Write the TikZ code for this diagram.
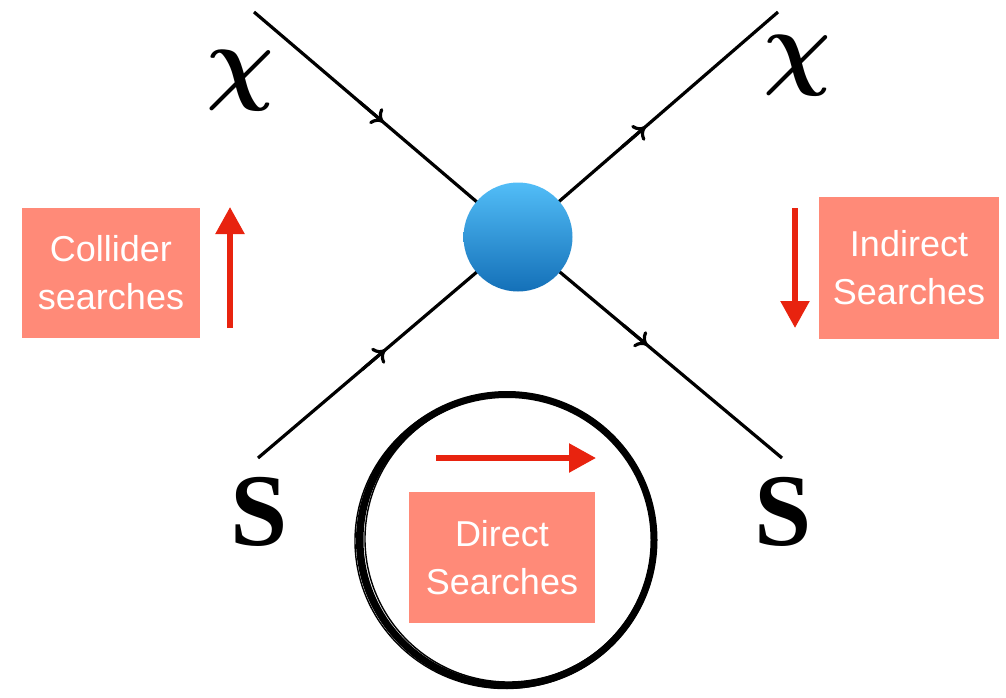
\documentclass[tikz,border=0pt]{standalone}
\usepackage{bm}
\usepackage{fontspec}
\setsansfont{Liberation Sans}
\newfontfamily\sfont{Liberation Serif}
\usetikzlibrary{arrows.meta,calc}
\definecolor{salmon}{HTML}{FF8A78}
\definecolor{redarrow}{HTML}{E8230F}
\definecolor{blobtop}{HTML}{52BDF7}
\definecolor{blobbot}{HTML}{1470B8}
\tikzset{
  fermionline/.style={draw=black, line width=3.2pt},
  fermionhead/.style={draw=black, line width=3.2pt, -{To[length=11pt,width=20pt]}},
  searchbox/.style={rectangle, fill=salmon, text=white, align=center, inner sep=0pt,
    font=\sffamily\fontsize{36}{48}\selectfont},
  redarr/.style={draw=redarrow, line width=5.5pt, -{Triangle[length=27pt,width=28pt]}},
  chilabel/.style={inner sep=0pt, scale=3.8, font=\Huge},
  slabel/.style={inner sep=0pt, font=\sfont\bfseries\fontsize{103}{103}\selectfont},
}
\begin{document}
\begin{tikzpicture}[x=1pt,y=-1pt]
\useasboundingbox (0,0) rectangle (1006,698);
% vertex
\coordinate (c) at (518,237);
\coordinate (tl) at (254,12);
\coordinate (tr) at (778,12);
\coordinate (bl) at (258,458);
\coordinate (br) at (782,458);
\draw[fermionline] (tl) -- (c);
\draw[fermionline] (c) -- (tr);
\draw[fermionline] (bl) -- (c);
\draw[fermionline] (c) -- (br);
\draw[fermionhead] ($(tl)!0.40!(c)$) -- ($(tl)!0.49!(c)$);
\draw[fermionhead] ($(c)!0.40!(tr)$) -- ($(c)!0.49!(tr)$);
\draw[fermionhead] ($(bl)!0.40!(c)$) -- ($(bl)!0.49!(c)$);
\draw[fermionhead] ($(c)!0.40!(br)$) -- ($(c)!0.49!(br)$);
\node[circle, minimum size=109pt, inner sep=0pt, shading=axis, top color=blobtop, bottom color=blobbot] (blob) at (c) {};
% labels
\node[chilabel] (chiL) at (240,81) {$\bm{\chi}$};
\node[chilabel] (chiR) at (797,66) {$\bm{\chi}$};
\node[slabel] (sL) at (259,512) {S};
\node[slabel] (sR) at (783,512) {S};
% boxes
\node[searchbox, minimum width=178pt, minimum height=130pt] (coll) at (111,273) {Collider\\searches};
\node[searchbox, minimum width=180pt, minimum height=142pt] (ind) at (909,268) {Indirect\\Searches};
\node[searchbox, minimum width=186pt, minimum height=131pt] (dir) at (502,557.5) {Direct\\Searches};
% red arrows
\coordinate (ua) at (230,328);
\coordinate (ub) at (230,207);
\draw[redarr] (ua) -- (ub);
\coordinate (da) at (795,208);
\coordinate (db) at (795,328);
\draw[redarr] (da) -- (db);
\coordinate (ra) at (436,458);
\coordinate (rb) at (596,458);
\draw[redarr] (ra) -- (rb);
% brush circle
\draw[line width=7pt] (507,540) ellipse (147 and 145.5);
\draw[line width=1.4pt] (505.5,541) ellipse (150.5 and 147.5);
\draw[line width=1.4pt] (508.5,539) ellipse (143.5 and 143);
\draw[line width=1pt] (506,540.5) ellipse (149.5 and 146.5);
\end{tikzpicture}
\end{document}
